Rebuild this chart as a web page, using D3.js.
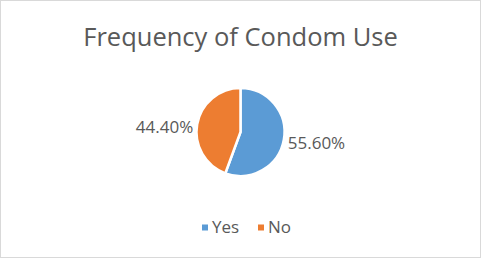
<!DOCTYPE html>
<html>
<head>
<meta charset="utf-8">
<script src="https://cdn.jsdelivr.net/npm/d3@7"></script>
<style>
  body { margin: 0; background: #fff; }
  text { font-family: "Open Sans", sans-serif; fill: #595959; }
</style>
</head>
<body>
<div id="chart"></div>
<script>
var categories = ["Yes", "No"];
var shares = [55.6, 44.4];
var colors = ["#5b9bd5", "#ed7d31"];

var W = 481, H = 258;
var cx = 240.5, cy = 132, radius = 44;

var svg = d3.select("#chart").append("svg")
    .attr("width", W)
    .attr("height", H);

// outer frame
svg.append("rect")
    .attr("x", 0.5).attr("y", 0.5)
    .attr("width", W - 1).attr("height", H - 1)
    .attr("fill", "#fff")
    .attr("stroke", "#d9d9d9");

// title
svg.append("text")
    .attr("x", W / 2)
    .attr("y", 46)
    .attr("text-anchor", "middle")
    .style("font-size", "25.5px")
    .text("Frequency of Condom Use");

var pie = d3.pie().sort(null).value(function (d) { return d; });
var arcs = pie(shares);
var arc = d3.arc().innerRadius(0).outerRadius(radius);

var g = svg.append("g")
    .attr("transform", "translate(" + cx + "," + cy + ")");

g.selectAll("path")
    .data(arcs)
    .enter().append("path")
    .attr("d", arc)
    .attr("fill", function (d, i) { return colors[i]; })
    .attr("stroke", "#fff")
    .attr("stroke-width", 2.5);

// labels outside end
g.selectAll("text.lbl")
    .data(arcs)
    .enter().append("text")
    .attr("class", "lbl")
    .attr("x", function (d) {
        var a = (d.startAngle + d.endAngle) / 2;
        return (radius + 4) * Math.sin(a);
    })
    .attr("y", function (d) {
        var a = (d.startAngle + d.endAngle) / 2;
        return -(radius + 4) * Math.cos(a) + 3;
    })
    .attr("dy", "0.35em")
    .attr("text-anchor", function (d) {
        var a = (d.startAngle + d.endAngle) / 2;
        return Math.sin(a) > 0 ? "start" : "end";
    })
    .style("font-size", "17px")
    .text(function (d) { return d3.format(".2f")(d.data) + "%"; });

// legend
var legendX = [202, 258];
var leg = svg.selectAll("g.leg")
    .data(categories)
    .enter().append("g")
    .attr("class", "leg")
    .attr("transform", function (d, i) { return "translate(" + legendX[i] + ",227.5)"; });

leg.append("rect")
    .attr("x", 0).attr("y", -3)
    .attr("width", 6).attr("height", 6)
    .attr("fill", function (d, i) { return colors[i]; });

leg.append("text")
    .attr("x", 10)
    .attr("y", 0)
    .attr("dy", "0.35em")
    .style("font-size", "17px")
    .text(function (d) { return d; });
</script>
</body>
</html>
